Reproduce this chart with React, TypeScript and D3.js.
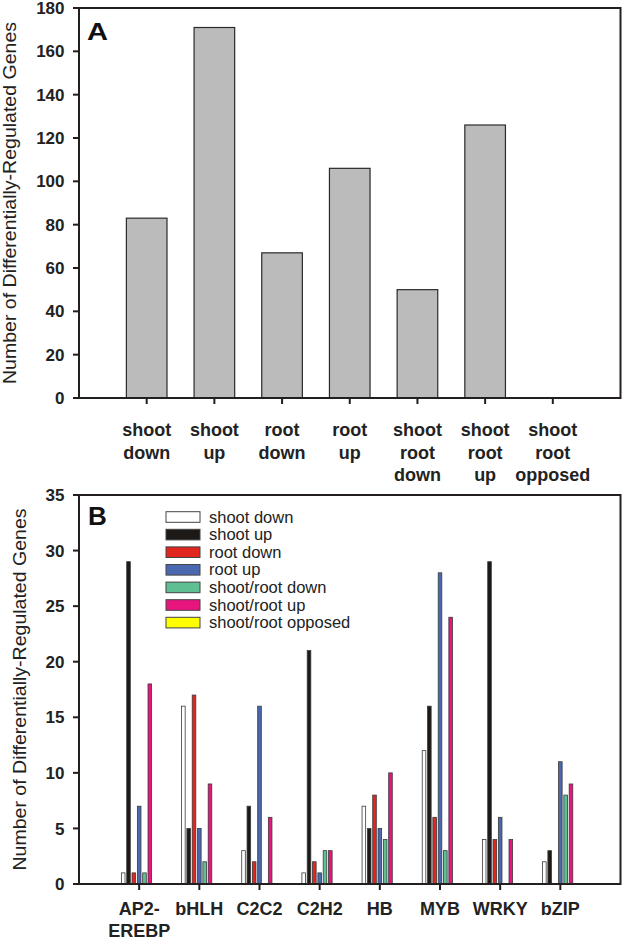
import * as d3 from "d3";
import React from "react";

// Panel A: totals per regulation class
const classLabels: string[][] = [
  ["shoot", "down"],
  ["shoot", "up"],
  ["root", "down"],
  ["root", "up"],
  ["shoot", "root", "down"],
  ["shoot", "root", "up"],
  ["shoot", "root", "opposed"],
];
const classCounts = [83, 171, 67, 106, 50, 126, 0];
const ticksA = [0, 20, 40, 60, 80, 100, 120, 140, 160, 180];

// Panel B: counts per TF family
const familyLabels: string[][] = [
  ["AP2-", "EREBP"],
  ["bHLH"],
  ["C2C2"],
  ["C2H2"],
  ["HB"],
  ["MYB"],
  ["WRKY"],
  ["bZIP"],
];
const seriesNames = [
  "shoot down",
  "shoot up",
  "root down",
  "root up",
  "shoot/root down",
  "shoot/root up",
  "shoot/root opposed",
];
const shootDown = [1, 16, 3, 1, 7, 12, 4, 2];
const shootUp = [29, 5, 7, 21, 5, 16, 29, 3];
const rootDown = [1, 17, 2, 2, 8, 6, 4, 0];
const rootUp = [7, 5, 16, 1, 5, 28, 6, 11];
const shootRootDown = [1, 2, 0, 3, 4, 3, 0, 8];
const shootRootUp = [18, 9, 6, 3, 10, 24, 4, 9];
const shootRootOpposed = [0, 0, 0, 0, 0, 0, 0, 0];
const ticksB = [0, 5, 10, 15, 20, 25, 30, 35];

const seriesValues = [shootDown, shootUp, rootDown, rootUp, shootRootDown, shootRootUp, shootRootOpposed];
const seriesColors = ["#ffffff", "#1c1916", "#e0261f", "#4a68b0", "#5fbf93", "#e8157f", "#ffff00"];

const FONT = "'Liberation Sans', Arial, sans-serif";
const AXIS = "#231f20";
const LEFT = 79;
const RIGHT = 620.5;
const Y_TITLE = "Number of Differentially-Regulated Genes";

export default function App() {
  // panel A scales
  const xA = d3.scaleLinear().domain([0, 8]).range([LEFT, RIGHT]);
  const yA = d3.scaleLinear().domain([0, 180]).range([398, 8]);
  const barW = (xA(1) - xA(0)) * 0.6;

  // panel B scales
  const xB = d3.scaleLinear().domain([0, 9]).range([LEFT, RIGHT]);
  const yB = d3.scaleLinear().domain([0, 35]).range([884, 495]);
  const slot = (xB(1) - xB(0)) * 0.0885;
  const barWB = 3.6;

  const frame = (x0: number, x1: number, y0: number, y1: number) => (
    <rect x={x0} y={y0} width={x1 - x0} height={y1 - y0} fill="none" stroke={AXIS} strokeWidth={2} />
  );

  return (
    <svg width={625} height={941} style={{ position: "absolute", left: 0, top: 0, background: "#fff" }} fontFamily={FONT}>
      {/* ---------- Panel A ---------- */}
      {classCounts.map((v, i) => (
        <rect
          key={"a" + i}
          x={xA(i + 1) - barW / 2}
          y={yA(v)}
          width={barW}
          height={yA(0) - yA(v)}
          fill="#bbbbbb"
          stroke="#2a2a2a"
          strokeWidth={1.2}
        />
      ))}
      {frame(LEFT, RIGHT, yA(180), yA(0))}
      {ticksA.map((t) => (
        <g key={"ta" + t}>
          <line x1={LEFT - 6} x2={LEFT} y1={yA(t)} y2={yA(t)} stroke={AXIS} strokeWidth={2} />
          <text x={64.5} y={yA(t)} dy="0.36em" textAnchor="end" fontSize={17} fontWeight="bold" fill="#222">
            {t}
          </text>
        </g>
      ))}
      {classLabels.map((lines, i) => (
        <g key={"la" + i}>
          <line x1={xA(i + 1)} x2={xA(i + 1)} y1={yA(0)} y2={yA(0) + 6} stroke={AXIS} strokeWidth={2} />
          {lines.map((s, j) => (
            <text key={j} x={xA(i + 1)} y={436 + j * 22.5} textAnchor="middle" fontSize={18} fontWeight="bold" fill="#222">
              {s}
            </text>
          ))}
        </g>
      ))}
      <text x={87} y={40} fontSize={24} fontWeight="bold" textLength={21} lengthAdjust="spacingAndGlyphs" fill="#111">
        A
      </text>
      <text
        transform={`translate(16,${(yA(0) + yA(180)) / 2}) rotate(-90)`}
        textAnchor="middle"
        fontSize={18}
        textLength={362}
        lengthAdjust="spacingAndGlyphs"
        fill="#222"
      >
        {Y_TITLE}
      </text>

      {/* ---------- Panel B ---------- */}
      {familyLabels.map((_, g) =>
        seriesValues.map((vals, s) =>
          vals[g] > 0 ? (
            <rect
              key={`b${g}-${s}`}
              x={xB(g + 1) + (s - 3) * slot - barWB / 2}
              y={yB(vals[g])}
              width={barWB}
              height={yB(0) - yB(vals[g])}
              fill={seriesColors[s]}
              stroke="#3a3a3a"
              strokeWidth={0.8}
            />
          ) : null
        )
      )}
      {frame(LEFT, RIGHT, yB(35), yB(0))}
      {ticksB.map((t) => (
        <g key={"tb" + t}>
          <line x1={LEFT - 6} x2={LEFT} y1={yB(t)} y2={yB(t)} stroke={AXIS} strokeWidth={2} />
          <text x={64.5} y={yB(t)} dy="0.36em" textAnchor="end" fontSize={17} fontWeight="bold" fill="#222">
            {t}
          </text>
        </g>
      ))}
      {familyLabels.map((lines, i) => (
        <g key={"lb" + i}>
          <line x1={xB(i + 1)} x2={xB(i + 1)} y1={yB(0)} y2={yB(0) + 6} stroke={AXIS} strokeWidth={2} />
          {lines.map((s, j) => (
            <text key={j} x={xB(i + 1)} y={915 + j * 21.5} textAnchor="middle" fontSize={18} fontWeight="bold" fill="#222">
              {s}
            </text>
          ))}
        </g>
      ))}
      <text x={88} y={525} fontSize={26} fontWeight="bold" fill="#111">
        B
      </text>
      <text
        transform={`translate(26,${(yB(0) + yB(35)) / 2}) rotate(-90)`}
        textAnchor="middle"
        fontSize={18}
        textLength={362}
        lengthAdjust="spacingAndGlyphs"
        fill="#222"
      >
        {Y_TITLE}
      </text>

      {/* legend */}
      {seriesNames.map((name, i) => (
        <g key={"lg" + i} transform={`translate(166,${517 + i * 17.6})`}>
          <rect x={0} y={-5.3} width={34} height={10.6} fill={seriesColors[i]} stroke="#444" strokeWidth={1} />
          <text x={43} y={5.5} fontSize={16.5} fill="#222">
            {name}
          </text>
        </g>
      ))}
    </svg>
  );
}
